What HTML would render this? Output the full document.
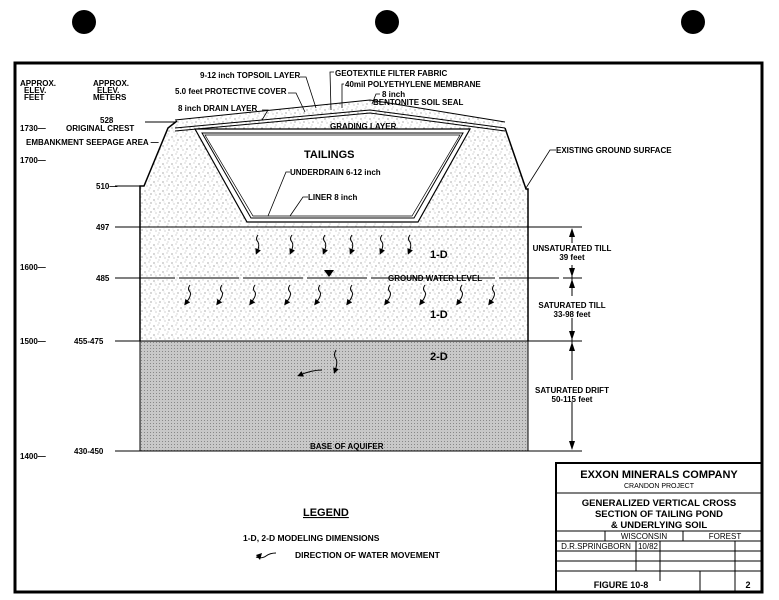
<!DOCTYPE html>
<html><head><style>
body{margin:0;background:#fff;}
svg{display:block;font-family:"Liberation Sans",sans-serif;font-weight:bold;}
</style></head><body>
<svg width="779" height="600" viewBox="0 0 779 600">
<defs>
<pattern id="st" width="9" height="9" patternUnits="userSpaceOnUse">
<rect width="9" height="9" fill="#fff"/>
<circle cx="1" cy="2" r="0.6" fill="#777"/><circle cx="5" cy="1" r="0.5" fill="#999"/>
<circle cx="7" cy="5" r="0.6" fill="#777"/><circle cx="3" cy="6" r="0.5" fill="#888"/>
<circle cx="6" cy="8" r="0.5" fill="#999"/><circle cx="2" cy="4" r="0.4" fill="#aaa"/>
</pattern>
<pattern id="dr" width="3" height="3" patternUnits="userSpaceOnUse">
<rect width="3" height="3" fill="#c8c8c8"/><rect width="1" height="1" fill="#888"/>
</pattern>
<marker id="ah" markerWidth="6" markerHeight="6" refX="3" refY="3" orient="auto" markerUnits="userSpaceOnUse">
<polygon points="0,0 6,3 0,6" fill="#000"/>
</marker>
</defs>
<rect width="779" height="600" fill="#fff"/>
<circle cx="84" cy="22" r="12" fill="#000"/><circle cx="387" cy="22" r="12" fill="#000"/><circle cx="693" cy="22" r="12" fill="#000"/>
<rect x="15" y="63" width="747" height="529" fill="none" stroke="#000" stroke-width="3"/>

<polygon points="140,186 144,186 168,128 177,120 370,100 505,122 505,128 526,189 528,189 528,341 140,341" fill="url(#st)"/>
<rect x="140" y="341" width="388" height="110" fill="url(#dr)" stroke="#000"/>
<polyline points="140,341 140,186 144,186 168,128 177,121" fill="none" stroke="#000" stroke-width="1.5"/>
<polyline points="505,128 526,189 528,189 528,341" fill="none" stroke="#000" stroke-width="1.5"/>
<polyline points="175,120 370,100 505,122" fill="none" stroke="#000"/>
<polyline points="175,128 370,110 505,128" fill="none" stroke="#000"/>
<polyline points="175,131 370,113 505,131" fill="none" stroke="#000"/>
<polygon points="195,129 470,129 418,222 247,222" fill="#fff" stroke="#000" stroke-width="1.2"/>
<polygon points="202,133 463,133 414,218 251,218" fill="none" stroke="#000"/>
<polygon points="205,135 460,135 412,216 253,216" fill="none" stroke="#000" stroke-width="0.7"/>
<line x1="115" y1="227" x2="582" y2="227" stroke="#000"/>
<line x1="115" y1="278" x2="582" y2="278" stroke="#000" stroke-dasharray="60,4"/>
<line x1="115" y1="341" x2="582" y2="341" stroke="#000"/>
<line x1="115" y1="451" x2="582" y2="451" stroke="#000"/>
<line x1="115" y1="186" x2="140" y2="186" stroke="#000"/>
<line x1="145" y1="122" x2="175" y2="122" stroke="#000"/>
<polygon points="324,270 334,270 329,277" fill="#000"/>
<g stroke="#000"><line x1="572" y1="229" x2="572" y2="449"/></g>
<g fill="#000">
<polygon points="572,228 569,237 575,237"/><polygon points="572,277 569,268 575,268"/>
<polygon points="572,279 569,288 575,288"/><polygon points="572,340 569,331 575,331"/>
<polygon points="572,342 569,351 575,351"/><polygon points="572,450 569,441 575,441"/>
</g>
<g fill="#fff"><rect x="560" y="243" width="30" height="22"/><rect x="555" y="296" width="40" height="22"/><rect x="555" y="380" width="40" height="22"/></g>
<g font-size="8" fill="#000" text-anchor="middle">
<text x="572" y="251">UNSATURATED TILL</text><text x="572" y="260">39 feet</text>
<text x="572" y="308">SATURATED TILL</text><text x="572" y="317">33-98 feet</text>
<text x="572" y="393">SATURATED DRIFT</text><text x="572" y="402">50-115 feet</text>
</g>
<g fill="none" stroke="#000" stroke-width="1" marker-end="url(#ah)">
<path d="M258,235 q-3,4 0,7 q2,3 -1,10"/><path d="M292,235 q-3,4 0,7 q2,3 -1,10"/><path d="M325,235 q-3,4 0,7 q2,3 -1,10"/><path d="M352,235 q-3,4 0,7 q2,3 -1,10"/><path d="M382,235 q-3,4 0,7 q2,3 -1,10"/><path d="M410,235 q-3,4 0,7 q2,3 -1,10"/>
<path d="M190,285 q-3,4 0,7 q2,3 -4,11"/><path d="M222,285 q-3,4 0,7 q2,3 -4,11"/><path d="M255,285 q-3,4 0,7 q2,3 -4,11"/><path d="M290,285 q-3,4 0,7 q2,3 -4,11"/><path d="M320,285 q-3,4 0,7 q2,3 -4,11"/><path d="M352,285 q-3,4 0,7 q2,3 -4,11"/><path d="M390,285 q-3,4 0,7 q2,3 -4,11"/><path d="M425,285 q-3,4 0,7 q2,3 -4,11"/><path d="M462,285 q-3,4 0,7 q2,3 -4,11"/><path d="M494,285 q-3,4 0,7 q2,3 -4,11"/>
<path d="M336,350 q-3,5 0,9 q2,3 -1,12"/><path d="M322,370 q-10,0 -22,5"/>
</g>
<g font-size="8" fill="#000">
<text x="20" y="86">APPROX.</text><text x="24" y="93">ELEV.</text><text x="24" y="100">FEET</text>
<text x="93" y="86">APPROX.</text><text x="97" y="93">ELEV.</text><text x="93" y="100">METERS</text>
<text x="20" y="131">1730—</text><text x="66" y="131">ORIGINAL CREST</text><text x="100" y="123">528</text>
<text x="26" y="145">EMBANKMENT SEEPAGE AREA —</text>
<text x="20" y="163">1700—</text>
<text x="96" y="189">510—</text><text x="96" y="230">497</text>
<text x="20" y="270">1600—</text><text x="96" y="281">485</text>
<text x="20" y="344">1500—</text><text x="74" y="344">455-475</text>
<text x="20" y="459">1400—</text><text x="74" y="454">430-450</text>
<text x="200" y="78">9-12 inch TOPSOIL LAYER</text>
<text x="175" y="94">5.0 feet  PROTECTIVE COVER</text>
<text x="178" y="111">8 inch  DRAIN LAYER</text>
<text x="335" y="76">GEOTEXTILE FILTER FABRIC</text>
<text x="345" y="87">40mil POLYETHYLENE MEMBRANE</text>
<text x="382" y="97">8 inch</text><text x="373" y="105">BENTONITE SOIL SEAL</text>
<text x="330" y="129">GRADING LAYER</text>
<text x="290" y="175">UNDERDRAIN 6-12 inch</text>
<text x="308" y="200">LINER 8 inch</text>
<text x="556" y="153">EXISTING GROUND SURFACE</text>
<text x="388" y="281">GROUND WATER LEVEL</text>
<text x="310" y="449">BASE OF AQUIFER</text>
</g>
<g font-size="11" fill="#000"><text x="304" y="158">TAILINGS</text><text x="430" y="258">1-D</text><text x="430" y="318">1-D</text><text x="430" y="360">2-D</text></g>
<g fill="none" stroke="#000" stroke-width="0.8">
<polyline points="300,77 306,77 316,108"/><polyline points="288,93 296,93 305,112"/><polyline points="262,110 268,110 262,120"/>
<polyline points="334,72 330,72 331,110"/><polyline points="344,84 342,84 342,108"/><polyline points="380,94 376,94 372,104"/>
<polyline points="556,150 550,150 526,188"/><polyline points="290,172 286,172 268,216"/><polyline points="308,197 303,197 290,216"/>
</g>
<text x="303" y="516" font-size="11" text-decoration="underline">LEGEND</text>
<g font-size="8.5"><text x="243" y="541">1-D, 2-D  MODELING DIMENSIONS</text><text x="295" y="558">DIRECTION OF WATER MOVEMENT</text></g>
<path d="M276,553 q-6,0 -10,3 q-4,3 -10,1" fill="none" stroke="#000"/><polygon points="256,555 262,553 260,560" fill="#000"/>
<g stroke="#000" fill="none">
<rect x="556" y="463" width="206" height="129" stroke-width="2"/>
<line x1="556" y1="493" x2="762" y2="493"/><line x1="556" y1="531" x2="762" y2="531"/>
<line x1="556" y1="541" x2="762" y2="541"/><line x1="556" y1="551" x2="762" y2="551"/>
<line x1="556" y1="561" x2="762" y2="561"/><line x1="556" y1="571" x2="762" y2="571"/>
<line x1="605" y1="531" x2="605" y2="541"/><line x1="683" y1="531" x2="683" y2="541"/>
<line x1="636" y1="541" x2="636" y2="571"/><line x1="660" y1="541" x2="660" y2="581"/><line x1="735" y1="541" x2="735" y2="592"/>
<line x1="700" y1="571" x2="700" y2="592"/>
</g>
<g fill="#000" text-anchor="middle">
<text x="659" y="478" font-size="11">EXXON MINERALS COMPANY</text>
<text x="659" y="488" font-size="7" font-weight="normal">CRANDON PROJECT</text>
<text x="659" y="506" font-size="9.5">GENERALIZED VERTICAL CROSS</text>
<text x="659" y="517" font-size="9.5">SECTION OF TAILING  POND</text>
<text x="659" y="528" font-size="9.5">&amp; UNDERLYING SOIL</text>
<text x="644" y="539" font-size="8" font-weight="normal">WISCONSIN</text>
<text x="725" y="539" font-size="8" font-weight="normal">FOREST</text>
<text x="596" y="549" font-size="8" font-weight="normal">D.R.SPRINGBORN</text>
<text x="648" y="549" font-size="8" font-weight="normal">10/82</text>
<text x="621" y="588" font-size="9">FIGURE 10-8</text>
<text x="748" y="588" font-size="9">2</text>
</g>
</svg>
</body></html>
